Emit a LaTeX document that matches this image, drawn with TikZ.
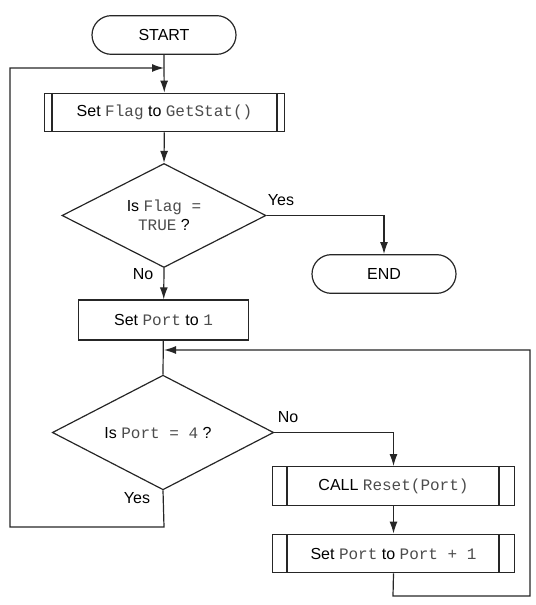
\documentclass[tikz,border=0pt]{standalone}
\usepackage{fontspec}
\setmainfont{Liberation Sans}
\setmonofont{Liberation Mono}
\usetikzlibrary{shapes.geometric,shapes.misc,arrows.meta}
\newcommand{\cd}[1]{{\color{black!70}\ttfamily #1}}
\begin{document}
\begin{tikzpicture}[x=0.75pt,y=-0.75pt,
  every node/.style={font=\fontsize{12}{14}\selectfont},
  ln/.style={draw=black!85,line width=0.9pt},
  arr/.style={ln,-{Latex[length=9pt,width=6pt]}},
  term/.style={ln,rounded rectangle,minimum width=108pt,minimum height=29pt,inner sep=0pt},
  proc/.style={ln,rectangle,inner sep=0pt},
  dec/.style={ln,diamond,aspect=2,inner sep=0pt},
  lab/.style={inner sep=0pt}]
\useasboundingbox (0,0) rectangle (535,605);
\node[term] (start) at (164,35) {START};
\node[proc,minimum width=180pt,minimum height=29pt] (flag) at (164.5,112.5) {Set \cd{Flag} to \cd{GetStat()}};
\draw[ln] (52,93) -- (52,132) (277,93) -- (277,132);
\node[dec,minimum width=153pt,minimum height=78pt] (d1) at (164,215.5) {};
\node[align=center] at (164,215) {Is \cd{Flag =}\\\cd{TRUE} ?};
\node[term] (end) at (384,274) {END};
\node[proc,minimum width=127pt,minimum height=30pt] (port) at (163.5,320) {Set \cd{Port} to \cd{1}};
\node[dec,minimum width=166pt,minimum height=86pt] (d2) at (163,432.5) {};
\node at (158,433) {Is \cd{Port = 4} ?};
\node[proc,minimum width=181pt,minimum height=29pt] (call) at (393.5,486) {CALL \cd{Reset(Port)}};
\draw[ln] (287,467) -- (287,505) (499,467) -- (499,505);
\node[proc,minimum width=181pt,minimum height=29pt] (inc) at (393.5,553.5) {Set \cd{Port} to \cd{Port + 1}};
\draw[ln] (287,534) -- (287,573) (499,534) -- (499,573);
\coordinate (j1) at (164,68);
\coordinate (j2) at (164,350);
\draw[ln] (start) -- (j1);
\draw[arr] (j1) -- (flag);
\draw[arr] (flag) -- (d1.north);
\draw[arr] (d1.east) -| (end.north);
\node[lab] at (281,200) {Yes};
\draw[arr] (d1.south) -- (port);
\node[lab] at (143,274) {No};
\draw[ln] (port) -- (d2.north);
\draw[arr] (d2.east) -| (call.north);
\node[lab] at (288,417) {No};
\draw[arr] (call) -- (inc);
\draw[arr] (inc.south) -- (393,596) -- (530,596) -- (530,350) -- (j2);
\draw[arr] (d2.south) -- (164,527) -- (10,527) -- (10,68) -- (j1);
\node[lab] at (137,498) {Yes};
\end{tikzpicture}
\end{document}
